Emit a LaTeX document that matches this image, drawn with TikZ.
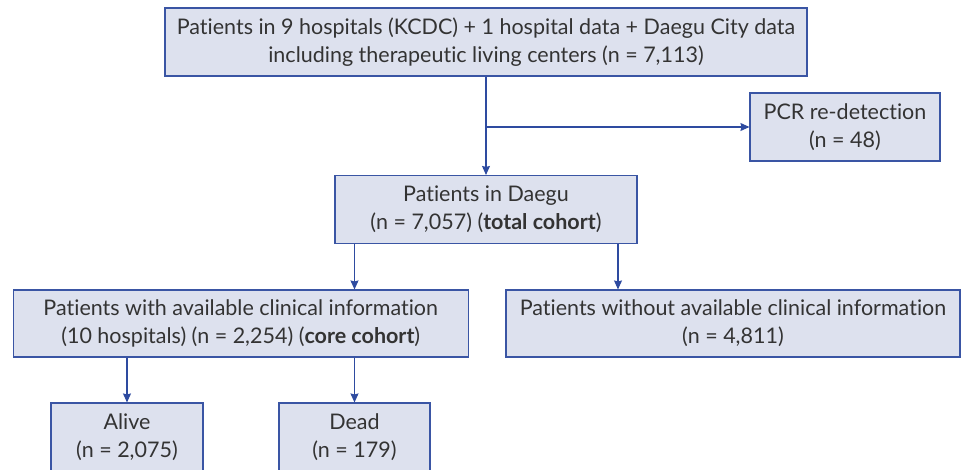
\documentclass[tikz,border=0pt]{standalone}
\usepackage{fontspec}
\setmainfont{Lato}[Ligatures={NoCommon}]
\usetikzlibrary{arrows.meta}
\definecolor{boxfill}{HTML}{DDE1EE}
\definecolor{boxdraw}{HTML}{3A55A4}
\definecolor{arrcol}{HTML}{2E4BA0}
\definecolor{txt}{HTML}{333333}
\begin{document}
\begin{tikzpicture}[x=1pt,y=-1pt,
  box/.style={draw=boxdraw,fill=boxfill,line width=1.1pt,align=center,inner sep=0pt,
    text=txt,font=\fontsize{21.5}{28}\selectfont,
    execute at begin node={\rule{0pt}{21.5pt}}},
  arr/.style={draw=arrcol,line width=1.1pt,-{Stealth[length=9pt,width=8pt,inset=1pt]}}]
\useasboundingbox (0,0) rectangle (963,469);
\node[box,minimum width=642pt,minimum height=68pt] (top) at (486,42)
  {Patients in 9 hospitals (KCDC) + 1 hospital data + Daegu City data\\including therapeutic living centers (n = 7,113)};
\node[box,minimum width=190pt,minimum height=68pt] (pcr) at (845,127)
  {PCR re-detection\\(n = 48)};
\node[box,minimum width=302pt,minimum height=68pt] (daegu) at (486,209.5)
  {Patients in Daegu\\(n = 7,057) (\textbf{total cohort})};
\node[box,minimum width=455pt,minimum height=67pt] (with) at (240.75,323.5)
  {Patients with available clinical information\\(10 hospitals) (n = 2,254) (\textbf{core cohort})};
\node[box,minimum width=454pt,minimum height=67pt] (without) at (733,323.5)
  {Patients without available clinical information\\(n = 4,811)};
\node[box,minimum width=152pt,minimum height=68pt] (alive) at (127,437)
  {Alive\\(n = 2,075)};
\node[box,minimum width=151pt,minimum height=68pt] (dead) at (354.5,437)
  {Dead\\(n = 179)};
\coordinate (br) at (486,127);
\coordinate (rx) at (618,0);
\draw[arr] (top.south) -- (daegu.north);
\draw[arr] (br) -- (pcr.west);
\draw[arr] (daegu.south -| dead.north) -- (with.north -| dead.north);
\draw[arr] (daegu.south -| rx) -- (without.north -| rx);
\draw[arr] (with.south -| alive.north) -- (alive.north);
\draw[arr] (with.south -| dead.north) -- (dead.north);
\end{tikzpicture}
\end{document}
